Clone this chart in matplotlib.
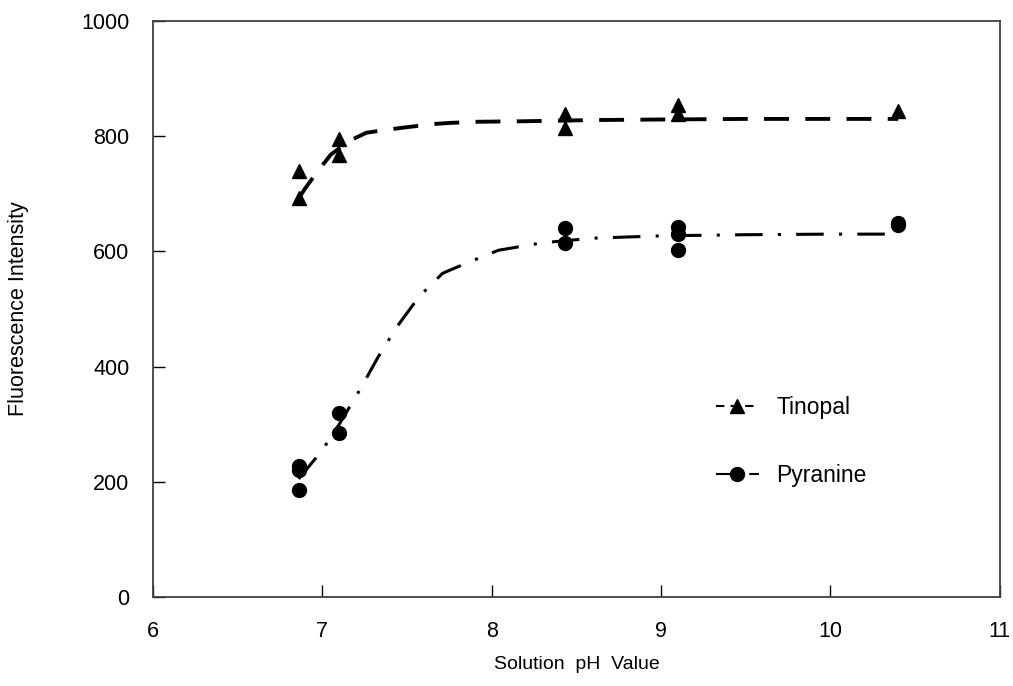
import matplotlib
matplotlib.use("Agg")
import matplotlib.pyplot as plt
from matplotlib.lines import Line2D

plt.rcParams['font.family'] = ['Liberation Sans', 'DejaVu Sans']

# measured points
tin_ph = [6.86, 6.86, 7.10, 7.10, 8.43, 8.43, 9.10, 9.10, 10.40]
tin_int = [740, 692, 795, 768, 838, 815, 855, 838, 843]
pyr_ph = [6.86, 6.86, 6.86, 7.10, 7.10, 8.43, 8.43, 9.10, 9.10, 9.10, 10.40, 10.40]
pyr_int = [228, 220, 185, 319, 284, 640, 614, 642, 630, 603, 649, 645]

# fitted curves
tin_fit_ph = [6.86, 6.90, 6.97, 7.05, 7.16, 7.26, 7.40, 7.51, 7.65, 7.75, 7.90, 8.2, 8.6, 9.0, 9.5, 10.0, 10.4]
tin_fit_int = [692, 710, 738, 768, 792, 806, 812, 816, 821, 823, 825, 826, 828, 829, 830, 830, 830]
pyr_fit_ph = [6.86, 7.00, 7.10, 7.22, 7.33, 7.44, 7.57, 7.71, 7.87, 8.04, 8.3, 8.6, 9.0, 9.5, 10.0, 10.4]
pyr_fit_int = [205, 255, 300, 359, 417, 469, 521, 562, 582, 602, 615, 623, 627, 629, 630, 630]

fig = plt.figure(figsize=(10.13, 6.86), dpi=100)
ax = fig.add_axes([0.151, 0.1297, 0.836, 0.8397])

ax.plot(tin_fit_ph, tin_fit_int, color='black', lw=2.8, dashes=(6.4, 4.2))
ax.plot(pyr_fit_ph, pyr_fit_int, color='black', lw=2.2, dashes=(9, 5, 1, 5))
ax.plot(tin_ph, tin_int, '^', color='black', ms=10, ls='none')
ax.plot(pyr_ph, pyr_int, 'o', color='black', ms=10, ls='none')

ax.set_xlim(6, 11)
ax.set_ylim(0, 1000)
ax.set_xticks([6, 7, 8, 9, 10, 11])
ax.set_yticks([0, 200, 400, 600, 800, 1000])
ax.tick_params(direction='in', length=8.5, width=1, labelsize=15.5, pad=17,
               top=False, right=False)
for s in ax.spines.values():
    s.set_color('#404040')
    s.set_linewidth(1.3)

ax.set_xlabel("Solution  pH  Value", fontsize=14, labelpad=10)
ax.set_ylabel("Fluorescence Intensity", fontsize=15.5)
ax.yaxis.set_label_coords(-0.146, 0.5)

handles = [
    Line2D([], [], color='black', lw=1.5, dashes=(4, 3), marker='^', ms=10),
    Line2D([], [], color='black', lw=1.5, dashes=(8, 3, 2, 3), marker='o', ms=10),
]
ax.legend(handles, ["Tinopal", "Pyranine"], loc='center left',
          bbox_to_anchor=(0.64, 0.27), frameon=False, fontsize=16.5,
          handlelength=1.9, handletextpad=0.75, labelspacing=1.95)

fig.savefig("out.png", dpi=100)
